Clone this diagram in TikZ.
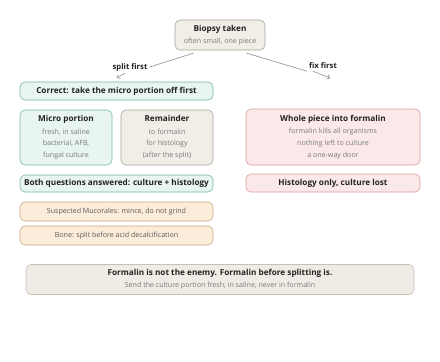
\documentclass[tikz,border=0pt]{standalone}
\usepackage{fontspec}
\setmainfont{Open Sans}
\usepackage{xcolor}
\usetikzlibrary{calc,arrows.meta}
\definecolor{ink}{HTML}{222222}
\definecolor{subgray}{HTML}{7A7A7A}
\definecolor{linegray}{HTML}{8C8C8C}
\definecolor{sandfill}{HTML}{F1EEE8}
\definecolor{sanddraw}{HTML}{A8A49D}
\definecolor{tealfill}{HTML}{E8F5F0}
\definecolor{tealdraw}{HTML}{74B8A0}
\definecolor{rosefill}{HTML}{FBE9EA}
\definecolor{rosedraw}{HTML}{D9999C}
\definecolor{peachfill}{HTML}{FCECDA}
\definecolor{peachdraw}{HTML}{CBA77F}
\definecolor{notefill}{HTML}{EFECE5}
\definecolor{notedraw}{HTML}{C4C1BB}
\newcommand{\hd}[1]{{\fontsize{8.2}{11}\selectfont\bfseries\color{ink}#1}}
\tikzset{
    card/.style={
        draw, rounded corners=5pt, line width=0.6pt, inner sep=0pt,
        align=center, text=subgray,
        font=\fontsize{7.1}{11.6}\selectfont
    },
    sandcard/.style={card, fill=sandfill, draw=sanddraw},
    tealcard/.style={card, fill=tealfill, draw=tealdraw},
    rosecard/.style={card, fill=rosefill, draw=rosedraw},
    peachcard/.style={card, fill=peachfill, draw=peachdraw, text=ink!75},
    notecard/.style={card, fill=notefill, draw=notedraw},
    branch/.style={
        text=ink, inner sep=2pt,
        font=\fontsize{7.7}{9}\selectfont\bfseries
    },
    wire/.style={draw=linegray, line width=0.6pt},
    conn/.style={wire, -{To[length=3pt,width=5pt]}}
}

\begin{document}
\begin{tikzpicture}[x=1pt,y=-1pt, line cap=round, line join=round]

\useasboundingbox (0,0) rectangle (440,362);

% top of the tree
\node[sandcard, minimum width=90, minimum height=30] (biopsy) at (220,35)
    {\hd{Biopsy taken}\\often small, one piece};

\node[branch] (splitlbl) at (130,67) {split first};
\node[branch] (fixlbl) at (323,66) {fix first};
\coordinate (splitend) at (117,78);
\coordinate (fixend) at (330,78);

\draw[wire] ([xshift=-27pt,yshift=-3pt]biopsy.south) -- (splitlbl.east);
\draw[conn] ([xshift=-5pt]splitlbl.south) -- (splitend);
\draw[wire] ([xshift=27pt,yshift=-3pt]biopsy.south) -- (fixlbl.south west);
\draw[conn] ([xshift=-10pt]fixlbl.south) -- (fixend);

% left branch: split first
\node[tealcard, minimum width=193, minimum height=18] (correct) at (116.5,91)
    {\hd{Correct: take the micro portion off first}};
\node[tealcard, minimum width=92, minimum height=55] (micro) at (66,137.5)
    {\hd{Micro portion}\\[0.8pt]fresh, in saline\\bacterial, AFB,\\fungal culture};
\node[sandcard, minimum width=92, minimum height=55] (remainder) at (167,137.5)
    {\hd{Remainder}\\[0.8pt]to formalin\\for histology\\(after the split)};
\node[tealcard, minimum width=193, minimum height=17] (both) at (116.5,183.5)
    {\hd{Both questions answered: culture + histology}};
\node[peachcard, minimum width=193, minimum height=19] (mucor) at (116.5,211.5)
    {Suspected Mucorales: mince, do not grind};
\node[peachcard, minimum width=193, minimum height=19] (bone) at (116.5,235.5)
    {Bone: split before acid decalcification};

% right branch: fix first
\node[rosecard, minimum width=174, minimum height=56] (whole) at (333,137)
    {\hd{Whole piece into formalin}\\[0.8pt]formalin kills all organisms\\nothing left to culture\\a one-way door};
\node[rosecard, minimum width=174, minimum height=18] (histo) at (333,183)
    {\hd{Histology only, culture lost}};

% take-home note
\node[notecard, minimum width=388, minimum height=30] (note) at (220,279.5)
    {\hd{Formalin is not the enemy. Formalin before splitting is.}\\Send the culture portion fresh, in saline, never in formalin};

\end{tikzpicture}
\end{document}
